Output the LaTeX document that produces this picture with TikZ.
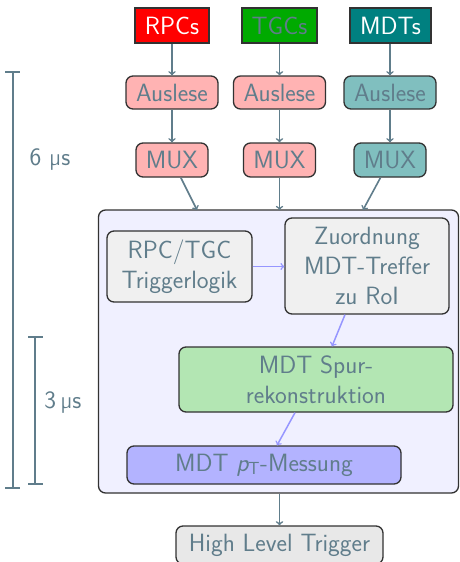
\documentclass[tikz,border=0pt]{standalone}
\usetikzlibrary{calc}
\definecolor{txt}{RGB}{96,125,139}
\definecolor{edge}{RGB}{50,50,50}
\definecolor{cred}{RGB}{255,0,0}
\definecolor{cgreen}{RGB}{0,170,0}
\definecolor{cteal}{RGB}{0,128,128}
\definecolor{pinkf}{RGB}{255,179,179}
\definecolor{tealf}{RGB}{128,191,191}
\definecolor{lav}{RGB}{240,240,255}
\definecolor{greyf}{RGB}{240,240,240}
\definecolor{hltf}{RGB}{232,232,232}
\definecolor{greenf}{RGB}{179,230,179}
\definecolor{bluef}{RGB}{179,179,255}
\definecolor{blarrow}{RGB}{150,150,255}
\begin{document}
\begin{tikzpicture}[x=1pt,y=-1pt,
  font=\sffamily\fontsize{25}{30}\selectfont,
  sq/.style={draw=edge, line width=1.3pt, inner sep=0pt, align=center, text=txt},
  box/.style={sq, rounded corners=7pt},
  arr/.style={->, draw=txt, line width=1.6pt},
  barr/.style={->, draw=blarrow, line width=1.5pt},
  bar/.style={draw=txt, line width=1.4pt},
  lbl/.style={text=txt, inner sep=0pt}]
\useasboundingbox (0,0) rectangle (460,562);

% sources
\node[sq, fill=cred, text=white, minimum width=74pt, minimum height=35pt] (rpc) at (172,25.5) {RPCs};
\node[sq, fill=cgreen, minimum width=75pt, minimum height=35pt] (tgc) at (279.5,25.5) {TGCs};
\node[sq, fill=cteal, text=white, minimum width=81pt, minimum height=35pt] (mdt) at (390.5,25.5) {MDTs};

% Auslese
\node[box, fill=pinkf, minimum width=92pt, minimum height=33pt] (a1) at (172,92.5) {Auslese};
\node[box, fill=pinkf, minimum width=92pt, minimum height=33pt] (a2) at (279.5,92.5) {Auslese};
\node[box, fill=tealf, minimum width=92pt, minimum height=33pt] (a3) at (390,92.5) {Auslese};

% MUX
\node[box, fill=pinkf, minimum width=72pt, minimum height=34pt] (m1) at (172,160) {MUX};
\node[box, fill=pinkf, minimum width=72pt, minimum height=34pt] (m2) at (279.5,160) {MUX};
\node[box, fill=tealf, minimum width=72pt, minimum height=34pt] (m3) at (390,160) {MUX};

\draw[arr] (rpc) -- (a1);
\draw[arr] (tgc) -- (a2);
\draw[arr] (mdt.south -| a3) -- (a3);
\draw[arr] (a1) -- (m1);
\draw[arr] (a2) -- (m2);
\draw[arr] (a3) -- (m3);

% big box
\node[box, fill=lav, minimum width=360pt, minimum height=283pt] (big) at (278.5,351.5) {};
\coordinate (t1) at (197,210);
\coordinate (t2) at (279.5,210);
\coordinate (t3) at (363,210);
\draw[arr] (m1) -- (t1);
\draw[arr] (m2) -- (t2);
\draw[arr] (m3) -- (t3);

\node[box, fill=greyf, minimum width=145pt, minimum height=71pt] (trig) at (179.5,266.5) {RPC/TGC\\Triggerlogik};
\node[box, fill=greyf, minimum width=164pt, minimum height=96pt] (zu) at (367,266) {Zuordnung\\MDT-Treffer\\zu RoI};
\node[box, fill=greenf, minimum width=274pt, minimum height=65pt] (spur) at (316,379.5) {MDT Spur-\\rekonstruktion};
\node[box, fill=bluef, minimum width=274pt, minimum height=38pt] (pt) at (264,465) {MDT {\slshape p}\textsubscript{T}-Messung};

\draw[barr] (trig) -- (trig.east -| zu.west);
\draw[barr] ($(zu.south)+(-22,0)$) -- ($(spur.north)+(16,0)$);
\draw[barr] ($(spur.south)+(-21,0)$) -- ($(pt.north)+(13,0)$);

% HLT
\node[box, fill=hltf, minimum width=207pt, minimum height=38pt] (hlt) at (279.5,545) {High Level Trigger};
\draw[arr] (big.south -| hlt.north) -- (hlt);

% time bars
\coordinate (s6t) at (13,72);
\coordinate (s6b) at (13,488);
\draw[bar] (s6t) -- (s6b);
\draw[bar] ($(s6t)+(-8,0)$) -- ($(s6t)+(7,0)$);
\draw[bar] ($(s6b)+(-8,0)$) -- ($(s6b)+(7,0)$);
\node[lbl] (l6) at (50,160) {6 µs};
\coordinate (s3t) at (35,337);
\coordinate (s3b) at (35,484);
\draw[bar] (s3t) -- (s3b);
\draw[bar] ($(s3t)+(-7,0)$) -- ($(s3t)+(8,0)$);
\draw[bar] ($(s3b)+(-7,0)$) -- ($(s3b)+(8,0)$);
\node[lbl] (l3) at (63,403) {3\,µs};
\end{tikzpicture}
\end{document}
